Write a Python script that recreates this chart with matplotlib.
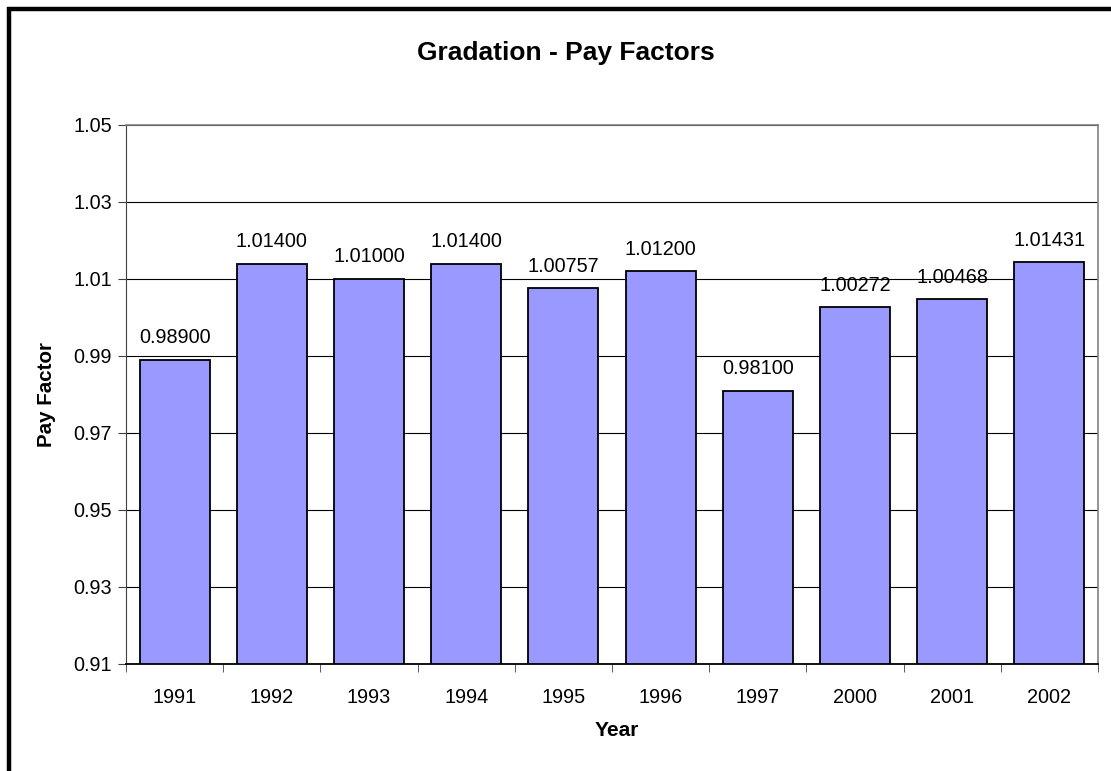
import matplotlib
matplotlib.use("Agg")
from matplotlib import pyplot as plt
from matplotlib.patches import Rectangle
import numpy as np

plt.rcParams['font.family'] = ['Liberation Sans', 'DejaVu Sans']

years = ['1991', '1992', '1993', '1994', '1995', '1996', '1997', '2000', '2001', '2002']
pay_factors = [0.98900, 1.01400, 1.01000, 1.01400, 1.00757, 1.01200, 0.98100, 1.00272, 1.00468, 1.01431]
labels = ['0.98900', '1.01400', '1.01000', '1.01400', '1.00757', '1.01200', '0.98100', '1.00272', '1.00468', '1.01431']
yticks = [0.91, 0.93, 0.95, 0.97, 0.99, 1.01, 1.03, 1.05]

fig = plt.figure(figsize=(11.11, 7.71), dpi=100)
ax = fig.add_axes([0.1134, 0.1388, 0.8749, 0.6991])

x = np.arange(len(years))
ax.bar(x, np.array(pay_factors) - 0.91, bottom=0.91, width=0.72,
       color='#9999FF', edgecolor='black', linewidth=1.3, zorder=3)

for xi, v, lab in zip(x, pay_factors, labels):
    ax.annotate(lab, (xi, v), xytext=(0, 9), textcoords='offset points',
                ha='center', va='bottom', fontsize=14.3)

ax.set_xlim(-0.5, len(years) - 0.5)
ax.set_ylim(0.91, 1.05)
ax.set_yticks(yticks)
ax.set_yticklabels(['%.2f' % t for t in yticks], fontsize=14.3)
ax.yaxis.grid(True, color='black', linewidth=0.8, zorder=0)

ax.set_xticks(x)
ax.set_xticklabels(years, fontsize=14.3)
ax.tick_params(axis='x', length=0, pad=17)
ax.set_xticks(np.arange(len(years) + 1) - 0.5, minor=True)
ax.tick_params(axis='x', which='minor', length=6, direction='out', color='#404040')
ax.tick_params(axis='y', length=6, direction='out', color='#404040', pad=4)

for side in ['top', 'right']:
    ax.spines[side].set_color('#808080')
    ax.spines[side].set_linewidth(1.2)
ax.spines['left'].set_color('#404040')
ax.spines['bottom'].set_color('black')
ax.spines['bottom'].set_linewidth(1.3)

fig.text(0.5554, 0.052, 'Year', ha='center', va='center',
         fontsize=15, fontweight='bold')
fig.text(0.0423, 0.4883, 'Pay Factor', ha='center', va='center',
         rotation=90, fontsize=14.8, fontweight='bold')
fig.text(0.509, 0.931, 'Gradation - Pay Factors', ha='center', va='center',
         fontsize=19, fontweight='bold')

fig.patches.append(Rectangle((9 / 1111, -0.1), 1.2, 1.1 - 9 / 771,
                             transform=fig.transFigure, fill=False,
                             edgecolor='black', linewidth=3.2, clip_on=False))

fig.savefig('out.png', dpi=100)
